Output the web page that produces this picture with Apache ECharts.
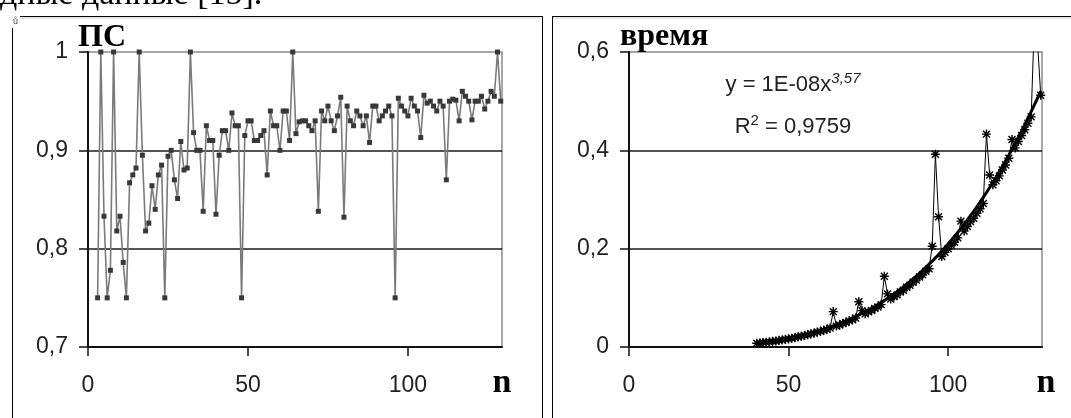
<!DOCTYPE html>
<html>
<head>
<meta charset="utf-8">
<script src="https://cdn.jsdelivr.net/npm/echarts@6/dist/echarts.min.js"></script>
<style>
  html, body { margin: 0; padding: 0; background: #fff; }
  #chart { width: 1071px; height: 418px; }
</style>
</head>
<body>
<div id="chart"></div>
<script>
// ПС (left panel): one value per n, n = 3 … 129
const psStartN = 3;
const psValues = [
  0.75, 1, 0.833, 0.75, 0.778, 1, 0.818, 0.833, 0.786, 0.75,
  0.867, 0.875, 0.882, 1, 0.895, 0.818, 0.826, 0.864, 0.84, 0.875,
  0.885, 0.75, 0.894, 0.9, 0.87, 0.851, 0.909, 0.88, 0.882, 1,
  0.918, 0.9, 0.9, 0.838, 0.925, 0.91, 0.91, 0.835, 0.895, 0.92,
  0.92, 0.9, 0.938, 0.925, 0.925, 0.75, 0.915, 0.93, 0.93, 0.91,
  0.91, 0.915, 0.92, 0.875, 0.94, 0.925, 0.925, 0.9, 0.94, 0.94,
  0.91, 1, 0.917, 0.929, 0.93, 0.93, 0.925, 0.92, 0.93, 0.838,
  0.94, 0.93, 0.945, 0.93, 0.92, 0.935, 0.954, 0.832, 0.945, 0.93,
  0.925, 0.94, 0.935, 0.925, 0.935, 0.908, 0.945, 0.945, 0.93, 0.935,
  0.94, 0.945, 0.935, 0.75, 0.953, 0.945, 0.94, 0.935, 0.953, 0.945,
  0.94, 0.913, 0.956, 0.948, 0.95, 0.945, 0.94, 0.95, 0.945, 0.87,
  0.95, 0.952, 0.951, 0.93, 0.96, 0.955, 0.95, 0.931, 0.95, 0.95,
  0.955, 0.942, 0.95, 0.96, 0.955, 1, 0.95
];

// время (right panel): one value per n, n = 40 … 129
const timeStartN = 40;
const timeValues = [
  0.0075, 0.0080, 0.0090, 0.0095, 0.0105, 0.0115, 0.0122, 0.0135, 0.0142, 0.0157,
  0.0165, 0.0180, 0.0190, 0.0208, 0.0218, 0.0236, 0.0248, 0.0268, 0.0282, 0.0305,
  0.0318, 0.0342, 0.0358, 0.0385, 0.0720, 0.0425, 0.0448, 0.0478, 0.0498, 0.0532,
  0.0552, 0.0590, 0.0920, 0.0740, 0.0675, 0.0718, 0.0742, 0.0785, 0.0815, 0.0862,
  0.1440, 0.1080, 0.0975, 0.1028, 0.1060, 0.1118, 0.1155, 0.1215, 0.1255, 0.1318,
  0.1360, 0.1425, 0.1470, 0.1540, 0.1590, 0.2050, 0.3920, 0.2650, 0.1840, 0.1925,
  0.200, 0.207, 0.213, 0.222, 0.256, 0.236, 0.245, 0.255, 0.262, 0.272,
  0.281, 0.292, 0.433, 0.350, 0.330, 0.338, 0.348, 0.360, 0.370, 0.384,
  0.422, 0.405, 0.418, 0.430, 0.442, 0.455, 0.468, 0.660, 0.620, 0.512
];

const xTickValues = [0, 50, 100];
const psAxis = { min: 0.7, max: 1, interval: 0.1 };
const timeAxis = { min: 0, max: 0.6, interval: 0.2 };
const xMax = 129.4;

// Trendline as labelled: y = a·x^3,57 (a shown rounded as 1E-08)
const trendExponent = 3.57;
const equationText = ['y = 1E-08x', '3,57'];
const r2Text = ['R', '2', ' = 0,9759'];

const psData = psValues.map((v, i) => [psStartN + i, v]);
const timeData = timeValues.map((v, i) => [timeStartN + i, v]);

// Coefficient of the power trend fitted to the series in log space, exponent fixed
function fitCoefficient(points, b) {
  let s = 0;
  for (const [x, y] of points) s += Math.log(y) - b * Math.log(x);
  return Math.exp(s / points.length);
}
const trendA = fitCoefficient(timeData, trendExponent);
const trendData = timeData.map(([x]) => [x, trendA * Math.pow(x, trendExponent)]);

const labelFont = 'Liberation Sans, Arial, sans-serif';
const serifFont = 'Liberation Serif, Times New Roman, serif';
const fmtComma = v => String(+v.toFixed(3)).replace('.', ',');

function xAxisFor(gridIndex) {
  return {
    type: 'value', gridIndex, min: 0, max: xMax,
    axisLine: { show: true, onZero: false, lineStyle: { color: '#111', width: 2 } },
    axisTick: { show: true, inside: false, length: 9, customValues: xTickValues, lineStyle: { color: '#111', width: 1.5 } },
    axisLabel: { customValues: xTickValues, margin: 27, color: '#222', fontFamily: labelFont, fontSize: 23 },
    splitLine: { show: false }
  };
}
function yAxisFor(gridIndex, range) {
  return {
    type: 'value', gridIndex, min: range.min, max: range.max, interval: range.interval,
    axisLine: { show: true, onZero: false, lineStyle: { color: '#111', width: 2 } },
    axisTick: { show: true, inside: false, length: 9, lineStyle: { color: '#111', width: 1.5 } },
    axisLabel: { margin: 20, color: '#222', fontFamily: labelFont, fontSize: 23, formatter: fmtComma },
    splitLine: { show: true, showMinLine: false, showMaxLine: false, lineStyle: { color: '#1a1a1a', width: 1.5 } }
  };
}

// asterisk-style marker for the time series
const starSymbol = 'path://M4.2,0H5.8V10H4.2Z M0,4.2H10V5.8H0Z M0.6,1.7L1.7,0.6L9.4,8.3L8.3,9.4Z M8.3,0.6L9.4,1.7L1.7,9.4L0.6,8.3Z';

const chart = echarts.init(document.getElementById('chart'), null, { renderer: 'canvas' });
chart.setOption({
  animation: false,
  backgroundColor: '#fff',
  grid: [
    { left: 88, top: 52, width: 414, height: 295, show: true, borderColor: '#8a8a8a', borderWidth: 1.5, backgroundColor: 'transparent' },
    { left: 629, top: 52, width: 413, height: 295, show: true, borderColor: '#8a8a8a', borderWidth: 1.5, backgroundColor: 'transparent' }
  ],
  xAxis: [xAxisFor(0), xAxisFor(1)],
  yAxis: [yAxisFor(0, psAxis), yAxisFor(1, timeAxis)],
  series: [
    {
      name: 'ПС', type: 'line', xAxisIndex: 0, yAxisIndex: 0, data: psData,
      symbol: 'rect', symbolSize: 5, showAllSymbol: true,
      lineStyle: { color: '#7a7a7a', width: 1.6 },
      itemStyle: { color: '#383838' }
    },
    {
      name: 'тренд', type: 'line', xAxisIndex: 1, yAxisIndex: 1, data: trendData,
      symbol: 'none', smooth: true,
      lineStyle: { color: '#000', width: 3 }
    },
    {
      name: 'время', type: 'line', xAxisIndex: 1, yAxisIndex: 1, data: timeData,
      symbol: starSymbol, symbolSize: 9, showAllSymbol: true,
      lineStyle: { color: '#000', width: 1 },
      itemStyle: { color: '#000' }
    }
  ],
  graphic: [
    // line of the surrounding page text
    { type: 'text', left: 0, top: -22, style: { text: 'дные данные [15].', font: '34px ' + serifFont, fill: '#000' } },
    // panel frames
    { type: 'line', shape: { x1: 12.5, y1: 28, x2: 12.5, y2: 418 }, style: { stroke: '#000', lineWidth: 1 } },
    { type: 'line', shape: { x1: 20, y1: 16.5, x2: 542.5, y2: 16.5 }, style: { stroke: '#000', lineWidth: 1.2 } },
    { type: 'line', shape: { x1: 20, y1: 18, x2: 542, y2: 18 }, style: { stroke: '#d0d0d0', lineWidth: 1 } },
    { type: 'line', shape: { x1: 542.5, y1: 16, x2: 542.5, y2: 418 }, style: { stroke: '#000', lineWidth: 1 } },
    { type: 'line', shape: { x1: 552.5, y1: 16, x2: 552.5, y2: 418 }, style: { stroke: '#000', lineWidth: 1 } },
    { type: 'line', shape: { x1: 552, y1: 16.5, x2: 1071, y2: 16.5 }, style: { stroke: '#000', lineWidth: 1.2 } },
    { type: 'line', shape: { x1: 553, y1: 18, x2: 1071, y2: 18 }, style: { stroke: '#d0d0d0', lineWidth: 1 } },
    { type: 'text', x: 13, y: 17, style: { text: 'ů', font: '9px ' + labelFont, fill: '#444' } },
    // axis titles
    { type: 'text', x: 78, y: 38, style: { text: 'ПС', font: 'bold 32px ' + serifFont, fill: '#000', verticalAlign: 'middle' } },
    { type: 'text', x: 620, y: 37, style: { text: 'время', font: 'bold 32px ' + serifFont, fill: '#000', verticalAlign: 'middle' } },
    { type: 'text', x: 502, y: 383, style: { text: 'n', font: 'bold 34px ' + serifFont, fill: '#000', align: 'center', verticalAlign: 'middle' } },
    { type: 'text', x: 1046, y: 383, style: { text: 'n', font: 'bold 34px ' + serifFont, fill: '#000', align: 'center', verticalAlign: 'middle' } },
    // trendline equation
    {
      type: 'text', x: 793, y: 85,
      style: {
        text: '{b|' + equationText[0] + '}{s|' + equationText[1] + '}',
        align: 'center', verticalAlign: 'middle',
        rich: {
          b: { font: '22px ' + labelFont, fill: '#222' },
          s: { font: 'italic 15px ' + labelFont, fill: '#222', padding: [0, 0, 12, 0] }
        }
      }
    },
    {
      type: 'text', x: 793, y: 127,
      style: {
        text: '{b|' + r2Text[0] + '}{s|' + r2Text[1] + '}{b|' + r2Text[2] + '}',
        align: 'center', verticalAlign: 'middle',
        rich: {
          b: { font: '22px ' + labelFont, fill: '#222' },
          s: { font: '15px ' + labelFont, fill: '#222', padding: [0, 0, 12, 0] }
        }
      }
    }
  ]
});
</script>
</body>
</html>
